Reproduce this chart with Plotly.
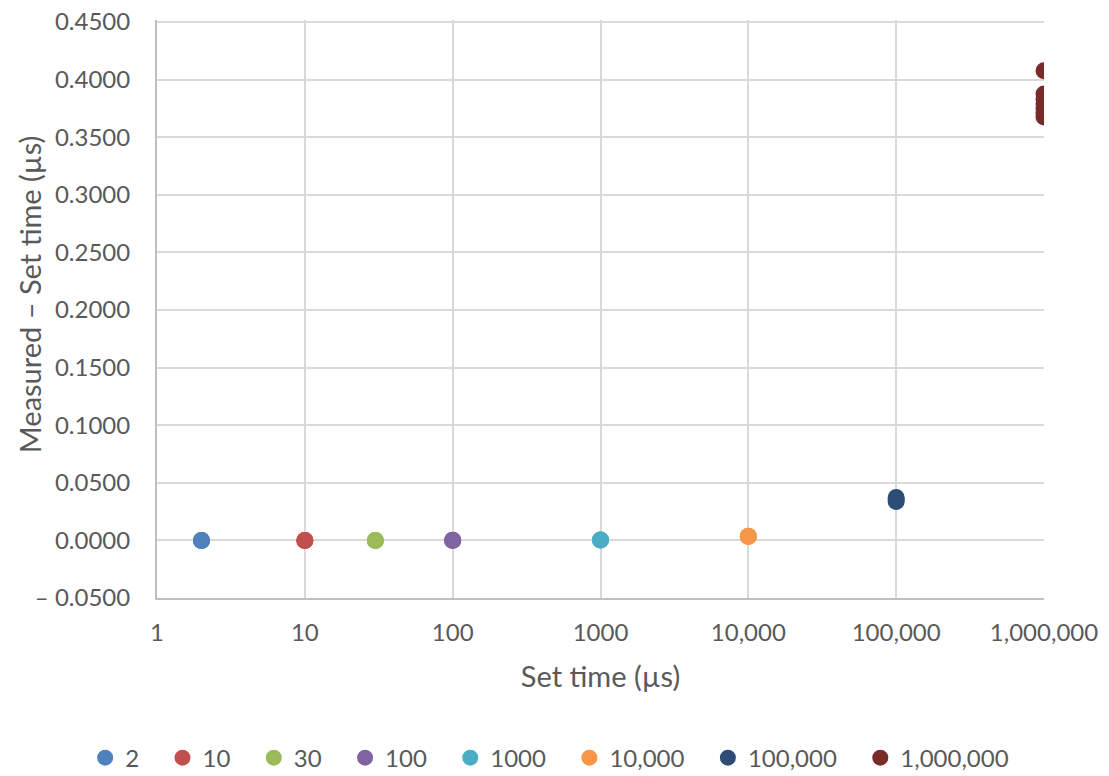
import plotly.graph_objects as go

series_names = ["2", "10", "30", "100", "1000", "10,000", "100,000", "1,000,000"]
set_times = [2, 10, 30, 100, 1000, 10000, 100000, 1000000]
measured_minus_set = [
    [0.0000, 0.0000, 0.0000],
    [0.0000, 0.0000, 0.0000],
    [0.0000, 0.0000, 0.0000],
    [0.0001, 0.0000, 0.0001],
    [0.0003, 0.0004, 0.0003],
    [0.0035, 0.0036, 0.0034],
    [0.0373, 0.0355, 0.0338],
    [0.4076, 0.3874, 0.3830, 0.3790, 0.3750, 0.3710, 0.3676],
]
colors = ["#4F81BD", "#C0504D", "#9BBB59", "#8064A2", "#4BACC6", "#F79646", "#2C4D75", "#772C2A"]

y_ticks = [-0.05, 0.0, 0.05, 0.1, 0.15, 0.2, 0.25, 0.3, 0.35, 0.4, 0.45]
y_tick_labels = ["\u2013 0.0500", "0.0000", "0.0500", "0.1000", "0.1500", "0.2000",
                 "0.2500", "0.3000", "0.3500", "0.4000", "0.4500"]
x_ticks = [1, 10, 100, 1000, 10000, 100000, 1000000]
x_tick_labels = ["1", "10", "100", "1000", "10,000", "100,000", "1,000,000"]

font_family = "Lato, 'Open Sans', sans-serif"
text_color = "#595959"
pad = "\u00a0\u00a0\u00a0"

fig = go.Figure()
for name, xv, ys, c in zip(series_names, set_times, measured_minus_set, colors):
    fig.add_trace(go.Scatter(
        x=[xv] * len(ys), y=ys, mode="markers", name=name + pad,
        marker=dict(color=c, size=17, line=dict(width=0)),
    ))

fig.update_layout(
    width=1101, height=768,
    paper_bgcolor="white", plot_bgcolor="white",
    margin=dict(l=149, r=65, t=12, b=178, autoexpand=False),
    font=dict(family=font_family, size=24, color=text_color),
    showlegend=True,
    legend=dict(orientation="h", x=-0.081, xanchor="left", y=-0.277, yanchor="middle",
                font=dict(size=24, color=text_color), itemsizing="trace",
                traceorder="normal", itemwidth=30),
    xaxis=dict(
        type="log", range=[0, 6], automargin=False,
        tickvals=x_ticks, ticktext=x_tick_labels,
        showgrid=True, gridcolor="#D9D9D9", gridwidth=2,
        showline=True, linecolor="#BFBFBF", linewidth=2,
        zeroline=False, ticks="", ticklen=0, ticklabelstandoff=12,
        title=dict(text="Set time (\u00b5s)", font=dict(size=29, color=text_color), standoff=22),
        tickfont=dict(size=24, color=text_color),
    ),
    yaxis=dict(
        range=[-0.05, 0.4517], automargin=False,
        tickvals=y_ticks, ticktext=y_tick_labels,
        showgrid=True, gridcolor="#D9D9D9", gridwidth=2,
        showline=True, linecolor="#BFBFBF", linewidth=2,
        zeroline=False, ticks="", ticklen=0, ticklabelstandoff=20,
        ticklabeloverflow="allow",
        tickfont=dict(size=24, color=text_color),
    ),
    annotations=[dict(
        text="Measured \u2013 Set time (\u00b5s)", textangle=-90, showarrow=False,
        xref="paper", yref="paper", x=-0.1443, y=0.524, xanchor="center", yanchor="middle",
        font=dict(size=29, color=text_color),
    )],
)

fig.write_html("out.html")
